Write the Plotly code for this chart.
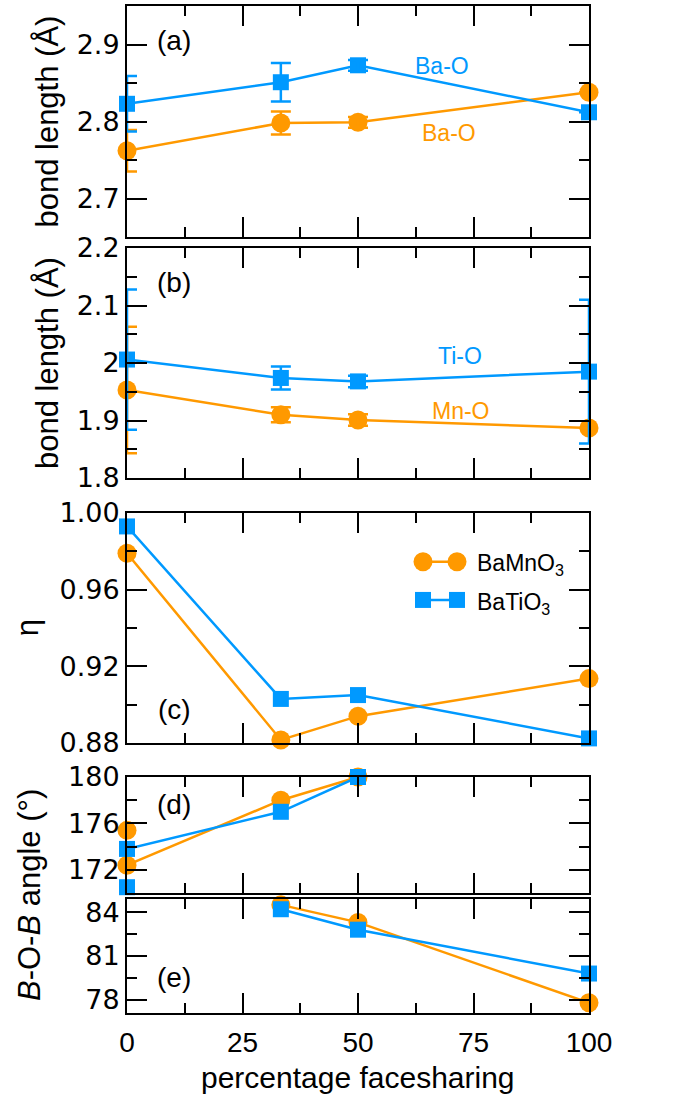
import plotly.graph_objects as go

# ---------------- data ----------------
pct = [0, 33.3, 50, 100]

bamno3_bao = [2.762, 2.798, 2.799, 2.838]
bamno3_bao_err = [0.027, 0.015, 0.007, 0.0]
batio3_bao = [2.823, 2.851, 2.873, 2.812]
batio3_bao_err = [0.036, 0.025, 0.007, 0.0]

bamno3_bo = [1.953, 1.910, 1.901, 1.887]
bamno3_bo_err = [0.110, 0.013, 0.010, 0.0]
batio3_bo = [2.006, 1.974, 1.968, 1.985]
batio3_bo_err = [0.122, 0.020, 0.010, 0.125]

bamno3_eta = [0.979, 0.8816, 0.894, 0.9136]
batio3_eta = [0.993, 0.903, 0.905, 0.8824]

pct_d = [0, 33.3, 50]
bamno3_angle_d = [172.4, 178.0, 180.0]
batio3_angle_d = [173.8, 177.0, 180.0]
pct_d_extra = [0]
bamno3_angle_d_extra = [175.4]
batio3_angle_d_extra = [170.5]

pct_e = [33.3, 50, 100]
bamno3_angle_e = [84.5, 83.3, 77.8]
batio3_angle_e = [84.2, 82.8, 79.8]

x_ticks = [0, 25, 50, 75, 100]

# ---------------- style ----------------
ORANGE = "#FF9900"
BLUE = "#0099FF"
FONT = "Liberation Sans, Arial, Helvetica, sans-serif"
YFONT = "DejaVu Sans, Liberation Sans, sans-serif"
W, H = 678, 1095
ML, MR, MT, MB = 127, 89, 6, 82
PH = H - MT - MB
BOT = H - MB

def dom(top, bot):
    return [(BOT - bot) / PH, (BOT - top) / PH]

panels = [(6, 237), (248, 478), (513, 743), (777, 893), (899, 1013)]
# overlay subplots (clipped) that carry the error bars of panels a and b
err_axes = {1: 6, 2: 7}

fig = go.Figure()

def ax_names(i):
    return ("x" if i == 1 else f"x{i}"), ("y" if i == 1 else f"y{i}")

def add_series(i, x, y, color, symbol, size, err=None, name=None, line=True):
    xa, ya = ax_names(i)
    if line:
        fig.add_trace(go.Scatter(
            x=x, y=y, xaxis=xa, yaxis=ya, mode="lines",
            line=dict(color=color, width=2.5),
            cliponaxis=True, showlegend=False, hoverinfo="skip"))
    fig.add_trace(go.Scatter(
        x=x, y=y, xaxis=xa, yaxis=ya, mode="markers",
        marker=dict(color=color, symbol=symbol, size=size, line=dict(width=0)),
        cliponaxis=False, showlegend=False, name=name))
    if err is not None:
        ex, ey = ax_names(err_axes[i])
        fig.add_trace(go.Scatter(
            x=x, y=y, xaxis=ex, yaxis=ey, mode="markers",
            marker=dict(color=color, size=1, opacity=0),
            error_y=dict(type="data", array=err, visible=True, color=color,
                         thickness=2.5, width=10),
            cliponaxis=True, showlegend=False, hoverinfo="skip"))

CS, SS = 19, 16
# (a)
add_series(1, pct, bamno3_bao, ORANGE, "circle", CS, bamno3_bao_err, "BaMnO3")
add_series(1, pct, batio3_bao, BLUE, "square", SS, batio3_bao_err, "BaTiO3")
# (b)
add_series(2, pct, bamno3_bo, ORANGE, "circle", CS, bamno3_bo_err, "BaMnO3")
add_series(2, pct, batio3_bo, BLUE, "square", SS, batio3_bo_err, "BaTiO3")
# (c)
add_series(3, pct, bamno3_eta, ORANGE, "circle", CS, None, "BaMnO3")
add_series(3, pct, batio3_eta, BLUE, "square", SS, None, "BaTiO3")
# (d)
add_series(4, pct_d, bamno3_angle_d, ORANGE, "circle", CS, None, "BaMnO3")
add_series(4, pct_d_extra, bamno3_angle_d_extra, ORANGE, "circle", CS, None, line=False)
add_series(4, pct_d, batio3_angle_d, BLUE, "square", SS, None, "BaTiO3")
add_series(4, pct_d_extra, batio3_angle_d_extra, BLUE, "square", SS, None, line=False)
# (e)
add_series(5, pct_e, bamno3_angle_e, ORANGE, "circle", CS, None, "BaMnO3")
add_series(5, pct_e, batio3_angle_e, BLUE, "square", SS, None, "BaTiO3")

common = dict(showline=True, linewidth=2, linecolor="black", mirror="allticks",
              ticks="inside", ticklen=20, tickwidth=2, tickcolor="black",
              showgrid=False, zeroline=False, layer="above traces",
              automargin=False)

yspecs = [
    dict(range=[2.65, 2.95], tick0=2.7, dtick=0.1, minor_dtick=0.05, minor_tick0=2.65, fmt=""),
    dict(range=[1.8, 2.2], tick0=1.8, dtick=0.1, minor_dtick=0.05, minor_tick0=1.8, fmt=""),
    dict(range=[0.88, 1.0], tick0=0.88, dtick=0.04, minor_dtick=0.02, minor_tick0=0.88, fmt=".2f"),
    dict(range=[170, 180], tick0=172, dtick=4, minor_dtick=2, minor_tick0=170, fmt=""),
    dict(range=[77.1, 84.9], tick0=78, dtick=3, minor_dtick=1.5, minor_tick0=78, fmt=""),
]

layout = dict(width=W, height=H, margin=dict(l=ML, r=MR, t=MT, b=MB, autoexpand=False),
              plot_bgcolor="white", paper_bgcolor="white", showlegend=False,
              font=dict(family=FONT, color="black"))

for i in range(1, 6):
    sx = "xaxis" if i == 1 else f"xaxis{i}"
    sy = "yaxis" if i == 1 else f"yaxis{i}"
    xa, ya = ax_names(i)
    layout[sx] = dict(common, domain=[0, 1], anchor=ya, range=[0, 100],
                      tickvals=x_ticks, showticklabels=(i == 5),
                      tickfont=dict(family=FONT, size=28, color="black"),
                      ticklabelstandoff=3,
                      minor=dict(ticks="inside", ticklen=10, tickwidth=2,
                                 tickcolor="black", dtick=12.5, tick0=0))
    s = yspecs[i - 1]
    layout[sy] = dict(common, domain=dom(*panels[i - 1]), anchor=xa,
                      range=s["range"], tick0=s["tick0"], dtick=s["dtick"],
                      tickformat=s["fmt"], ticklabelstandoff=0,
                      tickfont=dict(family=YFONT, size=27, color="black"),
                      minor=dict(ticks="inside", ticklen=10, tickwidth=2,
                                 tickcolor="black", dtick=s["minor_dtick"],
                                 tick0=s["minor_tick0"]))

# invisible overlay axes for the clipped error bars
for base, k in err_axes.items():
    bx, by = ax_names(base)
    ex, ey = ax_names(k)
    layout[f"xaxis{k}"] = dict(overlaying=bx, anchor=ey, range=[0, 100], visible=False,
                               automargin=False)
    layout[f"yaxis{k}"] = dict(overlaying=by, anchor=ex, range=yspecs[base - 1]["range"],
                               visible=False, automargin=False)

fig.update_layout(**layout)

# ---------------- annotations ----------------
ann = []
def txt(text, x, y, xref, yref, size, color="black", xanchor="center", **kw):
    ann.append(dict(text=text, x=x, y=y, xref=xref, yref=yref, showarrow=False,
                    xanchor=xanchor, yanchor="middle",
                    font=dict(family=FONT, size=size, color=color), **kw))

# panel labels
txt("(a)", 0.102, 0.85, "x domain", "y domain", 28)
txt("(b)", 0.102, 0.85, "x2 domain", "y2 domain", 28)
txt("(c)", 0.102, 0.145, "x3 domain", "y3 domain", 28)
txt("(d)", 0.102, 0.76, "x4 domain", "y4 domain", 28)
txt("(e)", 0.102, 0.31, "x5 domain", "y5 domain", 28)

# bond labels
txt("Ba-O", 0.681, 0.74, "x domain", "y domain", 23, BLUE)
txt("Ba-O", 0.697, 0.45, "x domain", "y domain", 23, ORANGE)
txt("Ti-O", 0.721, 0.53, "x2 domain", "y2 domain", 23, BLUE)
txt("Mn-O", 0.724, 0.29, "x2 domain", "y2 domain", 23, ORANGE)

# axis titles
txt("bond length (Å)", -0.173, sum(dom(*panels[0])) / 2, "paper", "paper", 31, textangle=-90)
txt("bond length (Å)", -0.173, sum(dom(*panels[1])) / 2, "paper", "paper", 31, textangle=-90)
txt("η", -0.216, sum(dom(*panels[2])) / 2, "paper", "paper", 31, textangle=-90)
txt("<i>B</i>-O-<i>B</i> angle (°)", -0.212, (dom(*panels[3])[1] + dom(*panels[4])[0]) / 2,
    "paper", "paper", 31, textangle=-90)
txt("percentage facesharing", 0.5, -0.0636, "paper", "paper", 30)

# legend text
txt("BaMnO<sub>3</sub>", 0.753, 0.775, "x3 domain", "y3 domain", 23, xanchor="left")
txt("BaTiO<sub>3</sub>", 0.753, 0.605, "x3 domain", "y3 domain", 23, xanchor="left")
fig.update_layout(annotations=ann)

# legend glyphs (layout decorations)
shapes = []
lx0, lx1 = 0.6407, 0.7143
ly1, ly2 = 0.788, 0.622
shapes.append(dict(type="line", xref="x3 domain", yref="y3 domain", x0=lx0, x1=lx1,
                   y0=ly1, y1=ly1, line=dict(color=ORANGE, width=2.5)))
shapes.append(dict(type="line", xref="x3 domain", yref="y3 domain", x0=lx0, x1=lx1,
                   y0=ly2, y1=ly2, line=dict(color=BLUE, width=2.5)))
for lx in (lx0, lx1):
    shapes.append(dict(type="circle", xref="x3 domain", yref="y3 domain",
                       xsizemode="pixel", ysizemode="pixel", xanchor=lx, yanchor=ly1,
                       x0=-CS / 2, x1=CS / 2, y0=-CS / 2, y1=CS / 2,
                       fillcolor=ORANGE, line=dict(width=0)))
    shapes.append(dict(type="rect", xref="x3 domain", yref="y3 domain",
                       xsizemode="pixel", ysizemode="pixel", xanchor=lx, yanchor=ly2,
                       x0=-SS / 2, x1=SS / 2, y0=-SS / 2, y1=SS / 2,
                       fillcolor=BLUE, line=dict(width=0)))
fig.update_layout(shapes=shapes)

fig.write_html("out.html")
